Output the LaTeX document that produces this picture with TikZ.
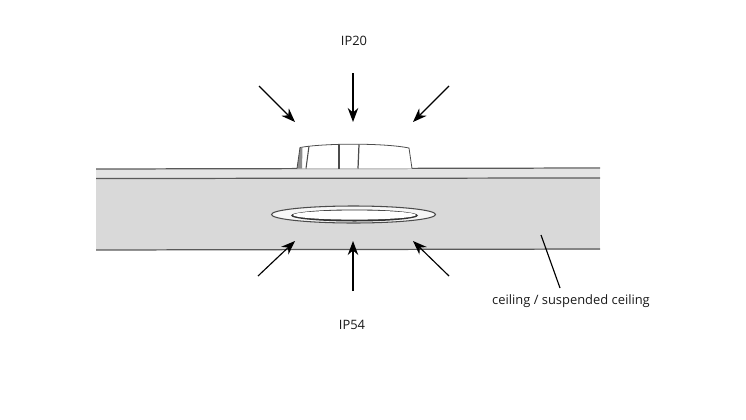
\documentclass[tikz,border=0pt]{standalone}
\usepackage{fontspec}
\setmainfont{Open Sans}
\usetikzlibrary{arrows.meta}
\tikzset{
  ingress/.style={-{Stealth[length=2.8mm,width=2.1mm]}, line width=0.65pt, black},
  caption/.style={font=\fontsize{7.35}{8}\selectfont, text=black!90, inner sep=0pt},
  ceilingedge/.style={draw=black!65, line width=0.7pt},
  lampedge/.style={draw=black!70, line width=0.45pt}
}
\begin{document}
\begin{tikzpicture}[x=0.02cm,y=-0.02cm]
\useasboundingbox (0,0) rectangle (746,419);
% ceiling
\fill[black!15] (96,178) rectangle (600,250);
\fill[black!11] (96,169) rectangle (600,178);
\draw[ceilingedge] (96,169) -- (600,168);
\draw[ceilingedge] (96,178.5) -- (600,178);
\draw[ceilingedge] (96,250) -- (600,249);
% housing
\fill[white] (297,168.5) -- (300,147.5) .. controls (325,143) and (385,143) .. (409,148) -- (412,168.5) -- cycle;
\fill[black!45] (297,168.5) -- (300,148) -- (302.5,147.5) -- (302,168.5) -- cycle;
\draw[lampedge] (297,168.5) -- (300,147.5) .. controls (325,143) and (385,143) .. (409,148) -- (412,168.5);
\draw[lampedge, line width=0.6pt] (309,146) -- (306,168.5);
\draw[lampedge, line width=0.8pt] (339,144.5) -- (339,168.5);
\draw[lampedge, line width=0.7pt] (359,144.5) -- (358,168.5);
% cover ring
\draw[lampedge, line width=0.6pt, fill=black!3] (353.5,214.5) ellipse [x radius=82, y radius=8.5];
\fill[black!80] (354.5,215.5) ellipse [x radius=63.5, y radius=6];
\fill[white] (354.5,215) ellipse [x radius=61.5, y radius=4.6];
% arrows
\coordinate (topleftstart) at (259,86);
\coordinate (topleftend) at (295,122);
\coordinate (topstart) at (353,73);
\coordinate (topend) at (353,122);
\coordinate (toprightstart) at (449,86);
\coordinate (toprightend) at (413,122);
\coordinate (botleftstart) at (258,276);
\coordinate (botleftend) at (295,241);
\coordinate (botstart) at (353,291);
\coordinate (botend) at (353,241);
\coordinate (botrightstart) at (449,276);
\coordinate (botrightend) at (413,241);
\coordinate (leaderstart) at (560,288);
\coordinate (leaderend) at (541,235);
\draw[ingress] (topleftstart) -- (topleftend);
\draw[ingress] (topstart) -- (topend);
\draw[ingress] (toprightstart) -- (toprightend);
\draw[ingress] (botleftstart) -- (botleftend);
\draw[ingress] (botstart) -- (botend);
\draw[ingress] (botrightstart) -- (botrightend);
\draw[black, line width=0.65pt] (leaderstart) -- (leaderend);
% labels
\node[caption] (iptop) at (354,41) {IP20};
\node[caption] (ipbot) at (352,325) {IP54};
\node[caption] (ceilinglabel) at (571,301) {ceiling / suspended ceiling};
\end{tikzpicture}
\end{document}
